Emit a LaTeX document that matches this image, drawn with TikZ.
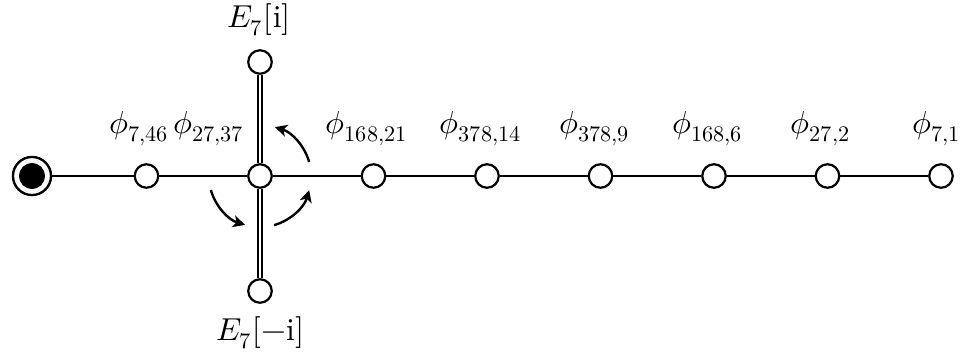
\documentclass[tikz,border=0pt]{standalone}
\usepackage{unicode-math}
\setmathfont{Latin Modern Math}[script-features={},sscript-features={}]
\usetikzlibrary{arrows.meta}
\begin{document}
\begin{tikzpicture}[x=0.315pt,y=0.315pt,
  wnode/.style={circle,draw,fill=white,minimum size=7.4pt,inner sep=0pt,line width=0.7pt},
  bnode/.style={circle,draw,fill=white,minimum size=12pt,inner sep=0pt,line width=0.75pt},
  lbl/.style={inner sep=0pt},
  link/.style={line width=0.7pt},
  dlink/.style={double,double distance=0.65pt,line width=0.55pt},
  rot/.style={line width=0.75pt,-{Stealth[length=3.8pt,width=3.8pt,inset=1pt]}}]
\useasboundingbox (0,0) rectangle (964,352);
% nodes
\node[bnode] (b) at (32,176) {};
\fill (b.center) circle[radius=4.1pt];
\node[wnode] (n1) at (146.5,176) {};
\node[wnode] (c)  at (260,176) {};
\node[wnode] (n3) at (373.5,176) {};
\node[wnode] (n4) at (487,176) {};
\node[wnode] (n5) at (600.5,176) {};
\node[wnode] (n6) at (714,176) {};
\node[wnode] (n7) at (827.5,176) {};
\node[wnode] (n8) at (941,176) {};
\node[wnode] (t)  at (260,290) {};
\node[wnode] (d)  at (260,61) {};
% labels
\node[lbl] (l1) at (139.5,223) {$\phi_{7,46}$};
\node[lbl] (lc) at (209,223) {$\phi_{27,37}$};
\node[lbl] (l3) at (367,223) {$\phi_{168,21}$};
\node[lbl] (l4) at (481,223) {$\phi_{378,14}$};
\node[lbl] (l5) at (595,223) {$\phi_{378,9}$};
\node[lbl] (l6) at (708,223) {$\phi_{168,6}$};
\node[lbl] (l7) at (821,223) {$\phi_{27,2}$};
\node[lbl] (l8) at (937,223) {$\phi_{7,1}$};
\node[lbl] (lt) at (259,332) {$E_7[\mathrm{i}]$};
\node[lbl] (ld) at (260,19) {$E_7[-\mathrm{i}]$};
% connectors
\draw[link] (b) -- (n1);
\draw[link] (n1) -- (c);
\draw[link] (c) -- (n3);
\draw[link] (n3) -- (n4);
\draw[link] (n4) -- (n5);
\draw[link] (n5) -- (n6);
\draw[link] (n6) -- (n7);
\draw[link] (n7) -- (n8);
\draw[dlink] (t) -- (c);
\draw[dlink] (c) -- (d);
% rotation arrows
\draw[rot] ([shift={(16:16.1pt)}]c.center) arc[start angle=16,end angle=73,radius=16.1pt];
\draw[rot] ([shift={(196:16.1pt)}]c.center) arc[start angle=196,end angle=253,radius=16.1pt];
\draw[rot] ([shift={(286:16.1pt)}]c.center) arc[start angle=286,end angle=344,radius=16.1pt];
\end{tikzpicture}
\end{document}
